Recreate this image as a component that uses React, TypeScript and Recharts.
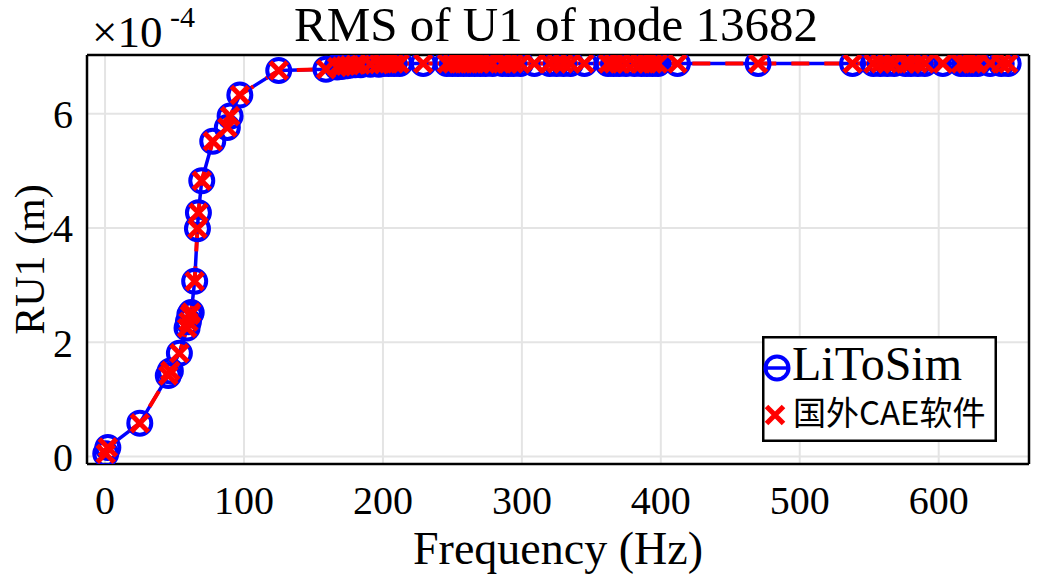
import {
  CartesianGrid,
  ComposedChart,
  Label,
  Legend,
  Line,
  XAxis,
  YAxis,
} from "recharts";

const BLUE = "#0000ff";
const RED = "#ff0000";
const GRID = "#e4e4e4";
const INK = "#000000";
const SERIF = '"Liberation Serif", "Times New Roman", serif';
const CJK = '"Noto Sans CJK SC", "Noto Sans", sans-serif';

// frequency of each output step (Hz)
const freqHz = [
  0.5, 2, 25, 45.5, 47, 53.5, 59, 60, 61, 62, 64.5, 66.5, 67.2, 69.6, 77.5, 88,
  90, 97, 125, 159, 167, 170, 173, 176, 180, 184, 191, 197, 200, 204, 208, 212,
  229, 246, 250, 254, 258, 262, 266, 270, 274, 279, 286, 290, 294, 299, 309,
  320, 325, 330, 335, 345, 362, 366, 370, 375, 381, 386, 390, 394, 398, 412,
  470, 538, 553, 558, 563, 568, 576, 580, 585, 590, 603, 616, 620, 624, 628,
  637, 645, 650,
];

// RMS of U1, in units of 1e-4 m
const litoRms = [
  0.05, 0.16, 0.585, 1.42, 1.5, 1.81, 2.25, 2.36, 2.48, 2.52, 3.07, 3.99, 4.27,
  4.83, 5.52, 5.76, 5.96, 6.33, 6.76, 6.78, 6.82, 6.83, 6.84, 6.85, 6.86, 6.86,
  6.87, 6.87, 6.88, 6.88, 6.88, 6.88, 6.88, 6.88, 6.88, 6.88, 6.88, 6.88, 6.88,
  6.88, 6.88, 6.88, 6.88, 6.88, 6.88, 6.88, 6.88, 6.88, 6.88, 6.88, 6.88, 6.88,
  6.88, 6.88, 6.88, 6.88, 6.88, 6.88, 6.88, 6.88, 6.88, 6.88, 6.88, 6.88, 6.88,
  6.88, 6.88, 6.88, 6.88, 6.88, 6.88, 6.88, 6.88, 6.88, 6.88, 6.88, 6.88, 6.88,
  6.88, 6.88,
];

const caeRms = [
  0.05, 0.16, 0.585, 1.42, 1.5, 1.81, 2.25, 2.36, 2.48, 2.52, 3.07, 3.99, 4.27,
  4.83, 5.52, 5.76, 5.96, 6.33, 6.76, 6.78, 6.82, 6.83, 6.84, 6.85, 6.86, 6.86,
  6.87, 6.87, 6.88, 6.88, 6.88, 6.88, 6.88, 6.88, 6.88, 6.88, 6.88, 6.88, 6.88,
  6.88, 6.88, 6.88, 6.88, 6.88, 6.88, 6.88, 6.88, 6.88, 6.88, 6.88, 6.88, 6.88,
  6.88, 6.88, 6.88, 6.88, 6.88, 6.88, 6.88, 6.88, 6.88, 6.88, 6.88, 6.88, 6.88,
  6.88, 6.88, 6.88, 6.88, 6.88, 6.88, 6.88, 6.88, 6.88, 6.88, 6.88, 6.88, 6.88,
  6.88, 6.88,
];

const xTicks = [0, 100, 200, 300, 400, 500, 600];
const yTicks = [0, 2, 4, 6];
const xDomain = [-13, 665];
const yDomain = [-0.13, 7.03];

const data = freqHz.map((f, i) => ({ f, lito: litoRms[i], cae: caeRms[i] }));

const axisLine = { stroke: INK, strokeWidth: 2.5 };
const tickLine = { stroke: INK, strokeWidth: 2 };
const tickText = { fill: INK, fontSize: 40, fontFamily: SERIF, style: { fontFamily: SERIF } };

function CrossDot({ cx, cy }: any) {
  if (cx == null || cy == null) return null;
  const s = 8.5;
  return (
    <path
      d={`M${cx - s},${cy - s}L${cx + s},${cy + s}M${cx - s},${cy + s}L${cx + s},${cy - s}`}
      stroke={RED}
      strokeWidth={5}
      fill="none"
    />
  );
}

function LegendBox() {
  return (
    <svg width={235} height={106} style={{ display: "block" }}>
      <rect x={1.25} y={1.25} width={232.5} height={103.5} fill="#fff" stroke={INK} strokeWidth={2.5} />
      <line x1={2} y1={32} x2={28} y2={32} stroke={BLUE} strokeWidth={3.5} />
      <circle cx={15} cy={32} r={11.5} stroke={BLUE} strokeWidth={4} fill="none" />
      <text x={30} y={44} fontSize={48} fontFamily={SERIF} fill={INK} style={{ fontFamily: SERIF }}>
        LiToSim
      </text>
      <CrossDot cx={13} cy={79} />
      <text x={31} y={89} fontSize={33} fontFamily={CJK} fill={INK} style={{ fontFamily: CJK }}>
        国外CAE软件
      </text>
    </svg>
  );
}

export default function App() {
  return (
    <div
      style={{
        position: "absolute",
        left: 0,
        top: 0,
        width: 1038,
        height: 581,
        background: "#fff",
        fontFamily: SERIF,
      }}
    >
      <ComposedChart
        width={1038}
        height={581}
        data={data}
        margin={{ top: 55, right: 9, bottom: 0, left: 0 }}
        style={{ fontFamily: SERIF }}
      >
        <CartesianGrid xAxisId="b" yAxisId="l" stroke={GRID} strokeWidth={2} />
        <XAxis
          xAxisId="b"
          dataKey="f"
          type="number"
          domain={xDomain}
          ticks={xTicks}
          allowDataOverflow
          height={117}
          axisLine={false}
          tickLine={false}
          tickSize={0}
          tickMargin={22}
          tick={tickText}
        >
          <Label
            value="Frequency (Hz)"
            position="insideBottom"
            offset={17}
            fontFamily={SERIF}
            style={{ fontFamily: SERIF, fontSize: 46, fill: INK }}
          />
        </XAxis>
        <XAxis
          xAxisId="bm"
          type="number"
          domain={xDomain}
          ticks={xTicks}
          allowDataOverflow
          mirror
          axisLine={axisLine}
          tickLine={tickLine}
          tickSize={10}
          tick={false}
        />
        <XAxis
          xAxisId="tm"
          orientation="top"
          type="number"
          domain={xDomain}
          ticks={xTicks}
          allowDataOverflow
          mirror
          axisLine={axisLine}
          tickLine={tickLine}
          tickSize={10}
          tick={false}
        />
        <YAxis
          yAxisId="l"
          type="number"
          domain={yDomain}
          ticks={yTicks}
          allowDataOverflow
          width={87}
          axisLine={false}
          tickLine={false}
          tickSize={0}
          tickMargin={14}
          tick={tickText}
        >
          <Label
            value="RU1 (m)"
            angle={-90}
            position="insideLeft"
            offset={29}
            fontFamily={SERIF}
            style={{ fontFamily: SERIF, fontSize: 42, fill: INK, textAnchor: "middle" }}
          />
        </YAxis>
        <YAxis
          yAxisId="lm"
          type="number"
          domain={yDomain}
          ticks={yTicks}
          allowDataOverflow
          mirror
          axisLine={axisLine}
          tickLine={tickLine}
          tickSize={10}
          tick={false}
        />
        <YAxis
          yAxisId="rm"
          orientation="right"
          type="number"
          domain={yDomain}
          ticks={yTicks}
          allowDataOverflow
          mirror
          axisLine={axisLine}
          tickLine={tickLine}
          tickSize={10}
          tick={false}
        />
        <Legend
          layout="vertical"
          align="center"
          verticalAlign="middle"
          wrapperStyle={{ left: 762, top: 336, width: 235, height: 106 }}
          content={() => <LegendBox />}
        />
        <Line
          xAxisId="b"
          yAxisId="l"
          dataKey="lito"
          stroke={BLUE}
          strokeWidth={3.5}
          dot={{ r: 11.5, stroke: BLUE, strokeWidth: 4, fill: "none" }}
          activeDot={false}
          isAnimationActive={false}
        />
        <Line
          xAxisId="b"
          yAxisId="l"
          dataKey="cae"
          stroke={RED}
          strokeWidth={4}
          strokeDasharray="18 15"
          dot={(p: any) => <CrossDot key={`x-${p.index}`} cx={p.cx} cy={p.cy} />}
          activeDot={false}
          isAnimationActive={false}
        />
      </ComposedChart>
      <svg
        width={1038}
        height={581}
        style={{ position: "absolute", left: 0, top: 0, pointerEvents: "none", fontFamily: SERIF }}
      >
        <text x={556} y={41} textAnchor="middle" fontSize={49} fill={INK}>
          RMS of U1 of node 13682
        </text>
        <text x={92} y={47} fontSize={45} fill={INK}>
          ×10
        </text>
        <text x={170} y={27} fontSize={30} fill={INK}>
          -4
        </text>
      </svg>
    </div>
  );
}
